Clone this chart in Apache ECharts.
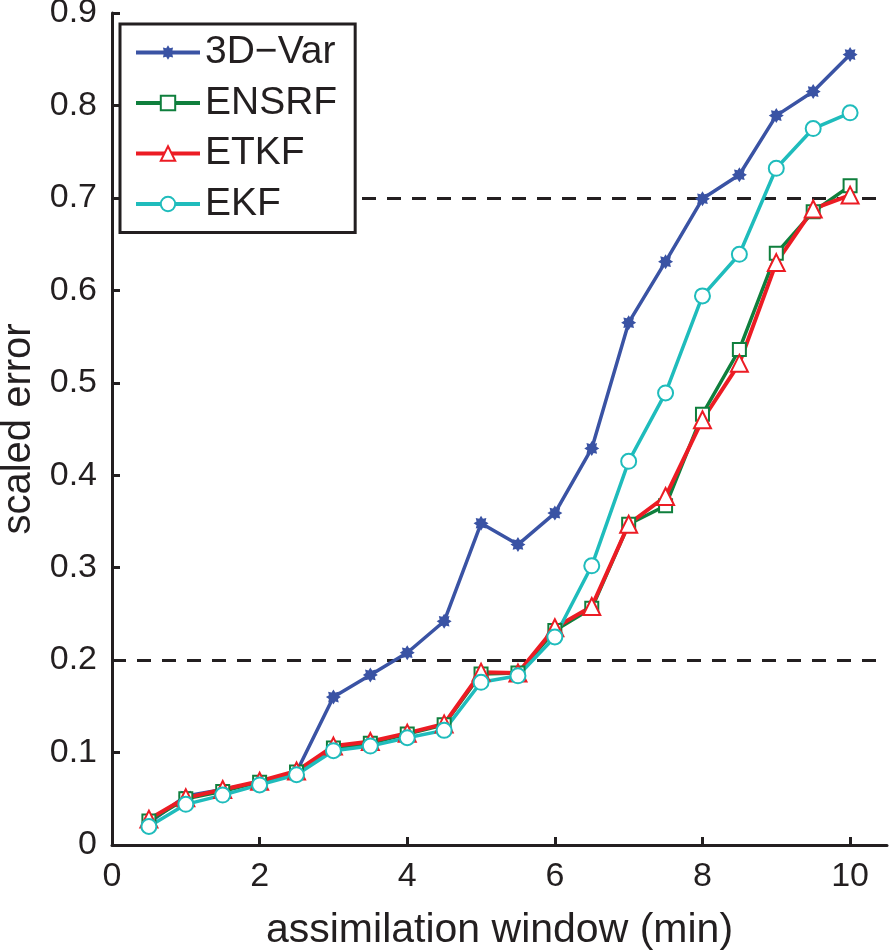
<!DOCTYPE html>
<html>
<head>
<meta charset="utf-8">
<script src="https://cdn.jsdelivr.net/npm/echarts@6/dist/echarts.min.js"></script>
<style>
html,body{margin:0;padding:0;background:#fff;}
#chart{width:889px;height:950px;}
</style>
</head>
<body>
<div id="chart"></div>
<script>
var windows = [0.5,1,1.5,2,2.5,3,3.5,4,4.5,5,5.5,6,6.5,7,7.5,8,8.5,9,9.5,10];
var var3d = [0.024,0.053,0.060,0.068,0.079,0.160,0.184,0.208,0.242,0.348,0.325,0.359,0.429,0.565,0.631,0.699,0.725,0.789,0.815,0.855];
var ensrf = [0.026,0.050,0.058,0.068,0.079,0.105,0.110,0.120,0.130,0.185,0.186,0.232,0.256,0.347,0.367,0.466,0.536,0.640,0.685,0.713];
var etkf  = [0.028,0.051,0.060,0.069,0.080,0.107,0.112,0.121,0.131,0.187,0.186,0.235,0.258,0.347,0.377,0.460,0.521,0.630,0.688,0.703];
var ekf   = [0.020,0.044,0.054,0.065,0.076,0.102,0.107,0.116,0.124,0.176,0.183,0.225,0.302,0.415,0.489,0.594,0.639,0.732,0.775,0.792];
var thresholds = [0.2, 0.7];
var xTicks = [0,2,4,6,8,10];
var seriesNames = ['3D\u2212Var','ENSRF','ETKF','EKF'];

function pairs(ys){ return windows.map(function(x,i){ return [x, ys[i]]; }); }

// 8-point star path for the asterisk marker
function starPath(){
  var pts = [];
  for (var i=0;i<16;i++){
    var a = Math.PI*2*i/16 - Math.PI/2;
    var r = (i%2===0) ? 10 : 6.5;
    pts.push((10+r*Math.cos(a)).toFixed(2)+' '+(10+r*Math.sin(a)).toFixed(2));
  }
  return 'path://M'+pts.join(' L')+' Z';
}

var FONT = "'Liberation Sans', Arial, Helvetica, sans-serif";
var INK = '#231f20';

var chart = echarts.init(document.getElementById('chart'), null, {renderer:'canvas'});
chart.setOption({
  backgroundColor:'#fff',
  animation:false,
  textStyle:{fontFamily:FONT},
  grid:{left:112,right:2,top:13,bottom:105,containLabel:false,outerBoundsMode:'none'},
  legend:{
    orient:'vertical', left:120, top:24, z:20,
    backgroundColor:'#fff', borderColor:INK, borderWidth:3, borderRadius:0,
    padding:[9,18,9,14],
    itemWidth:64, itemHeight:18, itemGap:11.5,
    lineStyle:{width:4},
    textStyle:{fontSize:39, lineHeight:36, color:INK, fontFamily:FONT},
    data:seriesNames
  },
  xAxis:{
    type:'value', min:0, max:10.5, interval:2,
    name:'assimilation window (min)', nameLocation:'middle', nameGap:65,
    nameTextStyle:{fontSize:41, color:INK, fontFamily:FONT},
    axisLine:{show:true, onZero:false, lineStyle:{color:INK, width:3}},
    axisTick:{show:true, inside:true, length:8, lineStyle:{color:INK, width:3}, customValues:xTicks},
    axisLabel:{fontSize:34, color:INK, margin:15, fontFamily:FONT, customValues:xTicks},
    splitLine:{show:false}
  },
  yAxis:{
    type:'value', min:0, max:0.9, interval:0.1,
    name:'scaled error', nameLocation:'middle', nameGap:72,
    nameTextStyle:{fontSize:40, color:INK, fontFamily:FONT},
    axisLine:{show:true, lineStyle:{color:INK, width:3}},
    axisTick:{show:true, inside:true, length:8, lineStyle:{color:INK, width:3}},
    axisLabel:{fontSize:34, color:INK, margin:15, fontFamily:FONT,
      formatter:function(v){ return v===0 ? '0' : (Math.round(v*10)/10).toFixed(1); }},
    splitLine:{show:false}
  },
  series:[
    {
      name:seriesNames[0], type:'line', data:pairs(var3d), z:2,
      symbol:starPath(), symbolSize:15, showAllSymbol:true,
      color:'#3a53a4',
      lineStyle:{color:'#3a53a4', width:3.5},
      itemStyle:{color:'#3a53a4'},
      markLine:{
        silent:true, symbol:['none','none'], label:{show:false}, z:1,
        lineStyle:{color:INK, width:3, type:[14,11]},
        emphasis:{disabled:true},
        data:thresholds.map(function(t){ return {yAxis:t}; })
      }
    },
    {
      name:seriesNames[1], type:'line', data:pairs(ensrf), z:2,
      symbol:'emptyRect', symbolSize:13, showAllSymbol:true,
      color:'#0f7f3d',
      lineStyle:{color:'#0f7f3d', width:3.5},
      itemStyle:{color:'#0f7f3d', borderWidth:3.5}
    },
    {
      name:seriesNames[2], type:'line', data:pairs(etkf), z:2,
      symbol:'emptyTriangle', symbolSize:17, showAllSymbol:true,
      color:'#ec1c24',
      lineStyle:{color:'#ec1c24', width:4},
      itemStyle:{color:'#ec1c24', borderWidth:3.5}
    },
    {
      name:seriesNames[3], type:'line', data:pairs(ekf), z:2,
      symbol:'emptyCircle', symbolSize:15, showAllSymbol:true,
      color:'#1fbcbc',
      lineStyle:{color:'#1fbcbc', width:3.5},
      itemStyle:{color:'#1fbcbc', borderWidth:3.5}
    }
  ]
});
</script>
</body>
</html>
